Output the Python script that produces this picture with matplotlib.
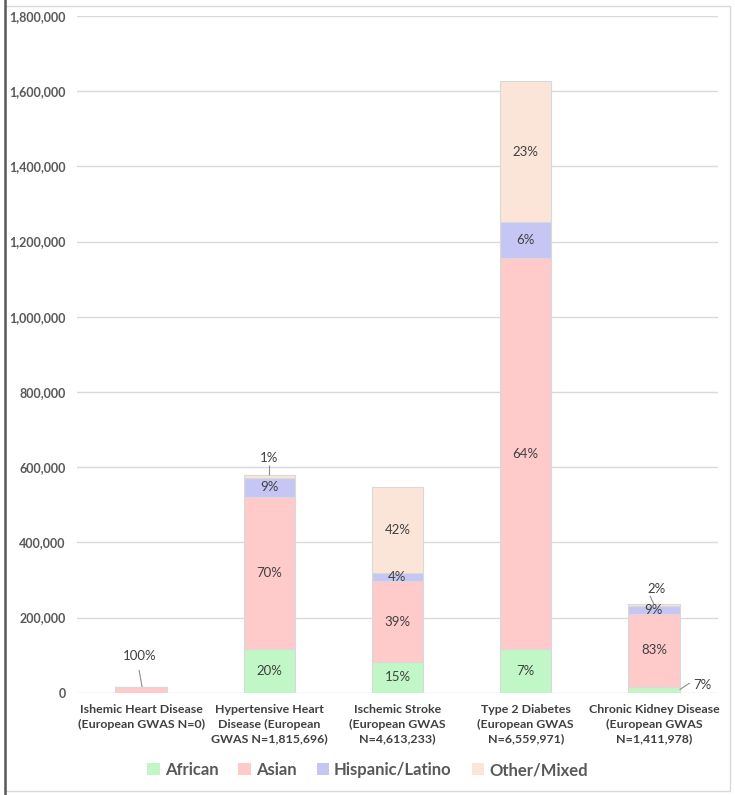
import matplotlib
matplotlib.use("Agg")
import matplotlib.pyplot as plt
from matplotlib.patches import Rectangle, Patch
from matplotlib.lines import Line2D
import numpy as np

categories = ["Ishemic Heart Disease\n(European GWAS N=0)",
              "Hypertensive Heart\nDisease (European\nGWAS N=1,815,696)",
              "Ischemic Stroke\n(European GWAS\nN=4,613,233)",
              "Type 2 Diabetes\n(European GWAS\nN=6,559,971)",
              "Chronic Kidney Disease\n(European GWAS\nN=1,411,978)"]
series_names = ["African", "Asian", "Hispanic/Latino", "Other/Mixed"]
african = [0, 116000, 82000, 116000, 16000]
asian = [15000, 405000, 214000, 1040000, 194000]
hispanic = [0, 51000, 22000, 97000, 20500]
other = [0, 6000, 230000, 373000, 4500]
yticks = [0, 200000, 400000, 600000, 800000, 1000000, 1200000, 1400000, 1600000, 1800000]

colors = ["#C1F7C6", "#FFCACA", "#C6C6F4", "#FBE5D9"]
edge = "#D9D9D9"
txt_dark = "#404040"
tick_col = "#595959"
FONT = "Lato"

W, H = 735, 795
fig = plt.figure(figsize=(W / 100, H / 100), dpi=100)
ax = fig.add_axes([77 / W, (H - 692.7) / H, (718 - 77) / W, (692.7 - 16) / H])

series = [african, asian, hispanic, other]
x = np.arange(len(categories))
totals = np.sum(np.array(series, dtype=float), axis=0)
bottom = np.zeros(len(categories))
bw = 0.4
for s, c in zip(series, colors):
    vals = np.array(s, dtype=float)
    ax.bar(x, vals, bw, bottom=bottom, color=c, edgecolor=edge, linewidth=0.8, zorder=3)
    bottom += vals

ax.set_xlim(-0.5, 4.5)
ax.set_ylim(0, 1800000)
ax.set_yticks(yticks)
ax.set_yticklabels([f"{v:,}" for v in yticks], fontfamily=FONT, fontweight="bold",
                   fontsize=9.0, color=tick_col)
ax.tick_params(axis="y", length=0, pad=8)
ax.tick_params(axis="x", length=0, pad=8)
ax.set_xticks(x)
ax.set_xticklabels(categories, fontfamily=FONT, fontweight="bold", fontsize=8.9,
                   color=txt_dark, linespacing=1.42, va="top")
ax.grid(axis="y", color="#D9D9D9", linewidth=1, zorder=0)
for sp in ax.spines.values():
    sp.set_visible(False)

# segment labels
outside = {(0, 1), (1, 3), (4, 3), (4, 0)}
for i in range(len(categories)):
    b = 0.0
    for j, s in enumerate(series):
        v = s[i]
        if v > 0 and (i, j) not in outside:
            pct = round(100 * v / totals[i])
            ax.text(x[i], b + v / 2, f"{pct}%", ha="center", va="center",
                    fontfamily=FONT, fontsize=9.5, color=txt_dark, zorder=5)
        b += v

def leader(i, j, text_pos, line_from, line_to, ha="center"):
    pct = round(100 * series[j][i] / totals[i])
    ax.text(x[i] + text_pos[0], text_pos[1], f"{pct}%", ha=ha, va="center",
            fontfamily=FONT, fontsize=9.5, color=txt_dark, zorder=5)
    ax.plot([x[i] + line_from[0], x[i] + line_to[0]], [line_from[1], line_to[1]],
            color="#8C8C8C", lw=0.8, zorder=5, solid_capstyle="butt")

leader(0, 1, (-0.01, 98000), (-0.016, 60500), (0.008, totals[0]))
leader(1, 3, (0.0, 624000), (0.0, 607000), (0.0, totals[1]))
leader(4, 3, (0.02, 276600), (-0.03, 257900), (0.0, totals[4]))
leader(4, 0, (0.31, 20500), (0.2, african[4] / 2), (0.28, 25900), ha="left")

handles = [Patch(facecolor=c, edgecolor="none") for c in colors]
fig.legend(handles, series_names, loc="center", bbox_to_anchor=(0.5, (H - 770) / H),
           ncol=4, frameon=False, handlelength=0.75, handleheight=0.75,
           handletextpad=0.3, columnspacing=1.2,
           prop=dict(family=FONT, weight="bold", size=12))
for t in fig.legends[0].get_texts():
    t.set_color(tick_col)

# chart border
fig.patches.append(Rectangle((5 / W, 4 / H), (730 - 5) / W, (789 - 4) / H,
                             transform=fig.transFigure, fill=False,
                             edgecolor="#D9D9D9", linewidth=1))
fig.lines.append(Line2D([5 / W, 5 / W], [0, 1], transform=fig.transFigure,
                        color="#595959", linewidth=1.8))

fig.savefig("out.png", dpi=100)
